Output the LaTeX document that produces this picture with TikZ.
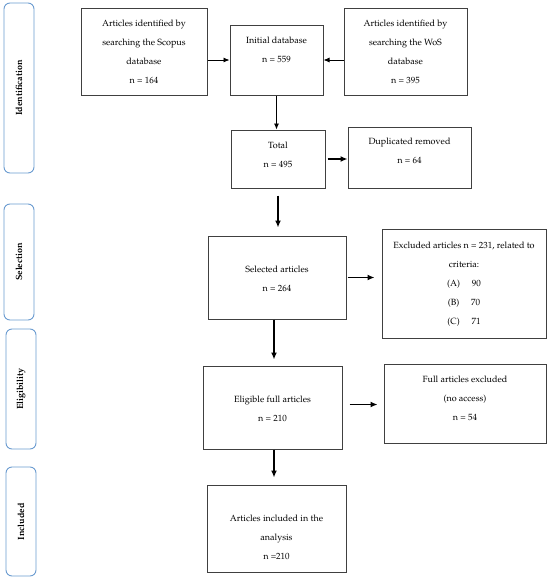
\documentclass[tikz,border=0pt]{standalone}
\usepackage[T1]{fontenc}
\usepackage{mathpazo}
\usetikzlibrary{arrows.meta}
\definecolor{phaseblue}{HTML}{6A9BD0}
\definecolor{boxgray}{HTML}{404040}
\begin{document}
\begin{tikzpicture}[x=1pt,y=-1pt,
  box/.style={draw=boxgray,line width=1pt,minimum width=#1,inner sep=0pt},
  phase/.style={draw=phaseblue,line width=0.9pt,rounded corners=6pt,inner sep=0pt,minimum width=30pt},
  phasetxt/.style={rotate=90,font=\fontsize{9}{11}\selectfont\bfseries},
  txt/.style={align=center,font=\fontsize{9}{19}\selectfont,inner sep=0pt},
  arr/.style={line width=1.3pt,-{Latex[length=7pt,width=6pt]}},
  thinarr/.style={line width=0.8pt,-{Latex[length=6pt,width=5pt]}}]
\useasboundingbox (0,0) rectangle (550,581);
% phase boxes
\node[phase,minimum height=170pt] (pid) at (19,88) {};
\node[phasetxt] (pidt) at (pid) {Identification};
\node[phase,minimum height=116pt] (psel) at (19,262) {};
\node[phasetxt] (pselt) at (psel) {Selection};
\node[phase,minimum height=120pt,minimum width=30pt] (pel) at (21,389) {};
\node[phasetxt] (pelt) at (pel) {Eligibility};
\node[phase,minimum height=109pt] (pinc) at (21,521.5) {};
\node[phasetxt] (pinct) at (pinc) {Included};
% flow boxes
\node[box=126pt,minimum height=87pt] (scopus) at (144,51.5) {};
\node[txt] (scopust) at (144,51.5) {Articles identified by\\searching the Scopus\\database\\n = 164};
\node[box=93pt,minimum height=70pt] (init) at (276.5,60) {};
\node[txt] (initt) at (276.5,49.5) {Initial database\\n = 559};
\node[box=123pt,minimum height=87pt] (wos) at (405.5,51.5) {};
\node[txt] (wost) at (405.5,51.5) {Articles identified by\\searching the WoS\\database\\n = 395};
\node[box=94pt,minimum height=58pt] (total) at (278,159) {};
\node[txt] (totalt) at (278,154.5) {Total\\n = 495};
\node[box=123pt,minimum height=61pt] (dup) at (409.5,157.5) {};
\node[txt] (dupt) at (409.5,150.5) {Duplicated removed\\n = 64};
\node[box=138pt,minimum height=83pt] (sel) at (277,277.5) {};
\node[txt] (selt) at (277,278.5) {Selected articles\\n = 264};
\node[box=164pt,minimum height=109pt] (exc) at (464,283.5) {};
\node[txt] (exct) at (464,284) {Excluded articles n = 231, related to\\criteria:\\(A)\hspace{1.3em}90\\(B)\hspace{1.3em}70\\(C)\hspace{1.3em}71};
\node[box=139pt,minimum height=83pt] (elig) at (272.5,407.5) {};
\node[txt] (eligt) at (272.5,408.5) {Eligible full articles\\n = 210};
\node[box=162pt,minimum height=79pt] (full) at (465,403.5) {};
\node[txt] (fullt) at (465,398) {Full articles excluded\\(no access)\\n = 54};
\node[box=139pt,minimum height=87pt] (incl) at (276.5,528.5) {};
\node[txt] (inclt) at (276.5,537) {Articles included in the\\analysis\\n =210};
% arrows
\draw[thinarr] (scopus.east |- init.west) -- (init.west);
\draw[thinarr] (wos.west |- init.east) -- (init.east);
\draw[thinarr] (init.south) -- (init.south |- total.north);
\draw[arr,shorten <=2pt] (total.east) -- (dup.west |- total.east);
\draw[arr,shorten <=7pt,shorten >=8pt] (total.south) -- (total.south |- sel.north);
\draw[arr,shorten <=1pt,shorten >=7pt] (sel.east) -- (exc.west |- sel.east);
\draw[arr,shorten >=6pt] (sel.south -| 274,0) -- (elig.north -| 274,0);
\draw[arr,shorten <=7pt,shorten >=6pt] ([yshift=3pt]elig.east) -- ([yshift=3pt]elig.east -| full.west);
\draw[arr,shorten >=7pt] (elig.south -| 274,0) -- (incl.north -| 274,0);
\end{tikzpicture}
\end{document}
